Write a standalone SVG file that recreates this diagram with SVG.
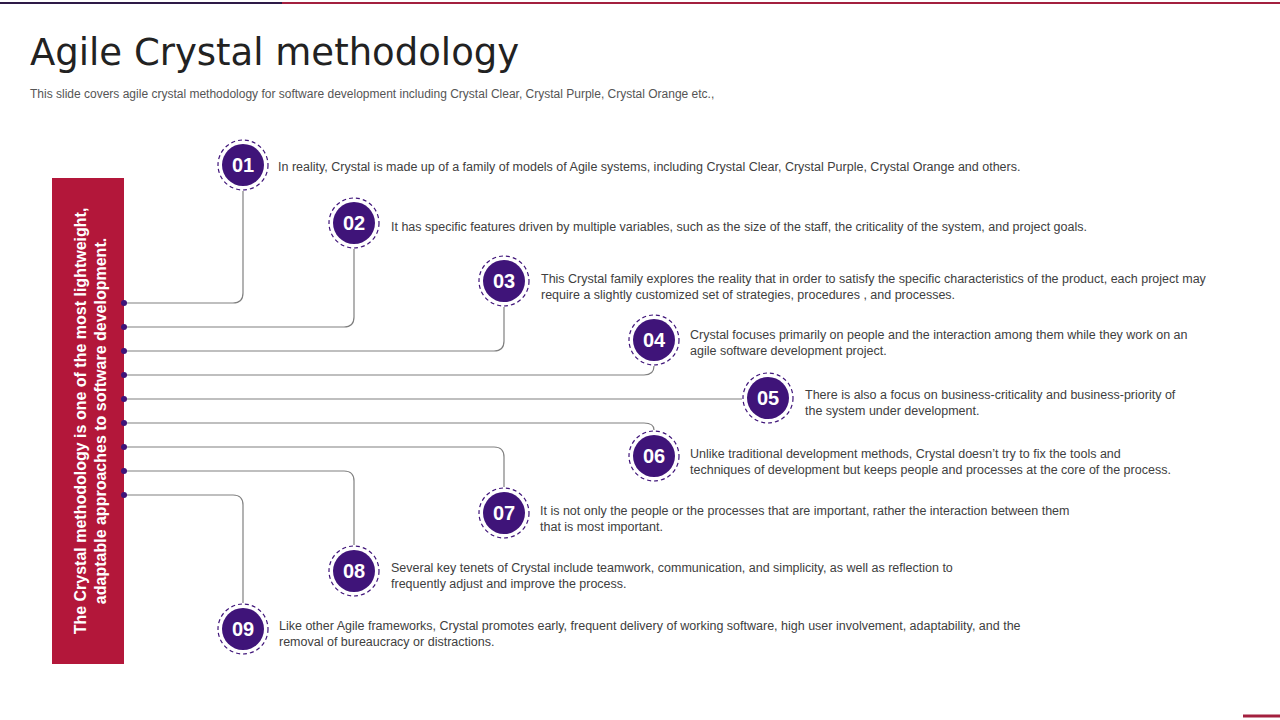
<svg xmlns="http://www.w3.org/2000/svg" width="1280" height="720" viewBox="0 0 1280 720">
<style>
.t{font-family:"Liberation Sans",Arial,sans-serif;font-size:12.5px;fill:#404040}
.n{font-family:"Liberation Sans",Arial,sans-serif;font-size:20px;font-weight:bold;fill:#fff;text-anchor:middle}
.c{fill:#3f1479}
.r{fill:none;stroke:#3f1479;stroke-width:1.2;stroke-dasharray:4 3}
.l{fill:none;stroke:#808080;stroke-width:1.2}
.d{fill:#3f1479}
</style>
<rect width="1280" height="720" fill="#fff"/>
<line x1="0" y1="3" x2="282" y2="3" stroke="#2e1a47" stroke-width="2"/>
<line x1="282" y1="3" x2="1280" y2="3" stroke="#a3203f" stroke-width="2"/>
<line x1="1243" y1="716" x2="1280" y2="716" stroke="#a3203f" stroke-width="3"/>
<text x="30" y="65" font-family="Century Gothic,'DejaVu Sans',sans-serif" font-size="37" fill="#222">Agile Crystal methodology</text>
<text x="30" y="98" font-family="'Liberation Sans',Arial,sans-serif" font-size="12" fill="#555">This slide covers agile crystal methodology for software development including  Crystal Clear, Crystal Purple, Crystal Orange etc.,</text>
<g id="sidebar">
<rect x="52" y="178" width="72" height="486" fill="#b3173a"/>
<text transform="translate(86,421) rotate(-90)" text-anchor="middle" font-family="'Liberation Sans',Arial,sans-serif" font-size="16" font-weight="bold" fill="#fff"><tspan x="0" y="0">The Crystal methodology is one of the most lightweight,</tspan><tspan x="0" y="20">adaptable approaches to software development.</tspan></text>
</g>
<g id="connectors">
<path class="l" d="M243 191 V293 Q243 303 233 303 H124"/>
<path class="l" d="M354 249 V317 Q354 327 344 327 H124"/>
<path class="l" d="M504 307 V341 Q504 351 494 351 H124"/>
<path class="l" d="M654 366 Q654 375 644 375 H124"/>
<path class="l" d="M742 399 H124"/>
<path class="l" d="M654 430 Q654 423 644 423 H124"/>
<path class="l" d="M504 487 V457 Q504 447 494 447 H124"/>
<path class="l" d="M354 545 V481 Q354 471 344 471 H124"/>
<path class="l" d="M243 603 V505 Q243 495 233 495 H124"/>
<g>
<circle class="d" cx="124" cy="303" r="3"/><circle class="d" cx="124" cy="327" r="3"/><circle class="d" cx="124" cy="351" r="3"/><circle class="d" cx="124" cy="375" r="3"/><circle class="d" cx="124" cy="399" r="3"/><circle class="d" cx="124" cy="423" r="3"/><circle class="d" cx="124" cy="447" r="3"/><circle class="d" cx="124" cy="471" r="3"/><circle class="d" cx="124" cy="495" r="3"/>
</g>
</g>
<g id="n01"><circle class="r" cx="243" cy="165" r="25"/><circle class="c" cx="243" cy="165" r="21"/><text class="n" x="243" y="172">01</text>
<text class="t" x="278" y="171">In reality, Crystal is made up of a family of models of Agile systems, including Crystal Clear, Crystal Purple, Crystal Orange and others.</text></g>
<g id="n02"><circle class="r" cx="354" cy="223" r="25"/><circle class="c" cx="354" cy="223" r="21"/><text class="n" x="354" y="230">02</text>
<text class="t" x="391" y="231">It has specific features driven  by multiple variables,  such as the size of the staff, the criticality of the system, and project goals.</text></g>
<g id="n03"><circle class="r" cx="504" cy="281" r="25"/><circle class="c" cx="504" cy="281" r="21"/><text class="n" x="504" y="288">03</text>
<text class="t" x="541" y="283">This Crystal family explores the reality that in order to satisfy the specific characteristics of the product, each project may</text>
<text class="t" x="541" y="299">require  a slightly customized set of strategies, procedures  , and processes.</text></g>
<g id="n04"><circle class="r" cx="654" cy="340" r="25"/><circle class="c" cx="654" cy="340" r="21"/><text class="n" x="654" y="347">04</text>
<text class="t" x="690" y="339">Crystal focuses primarily on people and the interaction among them while they work on an</text>
<text class="t" x="690" y="355">agile software development  project.</text></g>
<g id="n05"><circle class="r" cx="768" cy="398" r="25"/><circle class="c" cx="768" cy="398" r="21"/><text class="n" x="768" y="405">05</text>
<text class="t" x="805" y="399">There is also a focus on business-criticality and business-priority of</text>
<text class="t" x="805" y="415">the system under development.</text></g>
<g id="n06"><circle class="r" cx="654" cy="456" r="25"/><circle class="c" cx="654" cy="456" r="21"/><text class="n" x="654" y="463">06</text>
<text class="t" x="690" y="458">Unlike traditional development  methods, Crystal doesn’t try to fix the tools and</text>
<text class="t" x="690" y="474">techniques of development  but keeps people and processes at the core of the process.</text></g>
<g id="n07"><circle class="r" cx="504" cy="513" r="25"/><circle class="c" cx="504" cy="513" r="21"/><text class="n" x="504" y="520">07</text>
<text class="t" x="540" y="515">It is not only the people  or the processes that are important, rather the interaction between them</text>
<text class="t" x="540" y="531">that is most important.</text></g>
<g id="n08"><circle class="r" cx="354" cy="571" r="25"/><circle class="c" cx="354" cy="571" r="21"/><text class="n" x="354" y="578">08</text>
<text class="t" x="391" y="572">Several  key tenets of Crystal include teamwork, communication, and simplicity, as well as reflection to</text>
<text class="t" x="391" y="588">frequently  adjust and improve  the process.</text></g>
<g id="n09"><circle class="r" cx="243" cy="629" r="25"/><circle class="c" cx="243" cy="629" r="21"/><text class="n" x="243" y="636">09</text>
<text class="t" x="279" y="630">Like other Agile frameworks, Crystal promotes early, frequent  delivery of working software, high user involvement,  adaptability, and the</text>
<text class="t" x="279" y="646">removal  of bureaucracy or distractions.</text></g>
</svg>
